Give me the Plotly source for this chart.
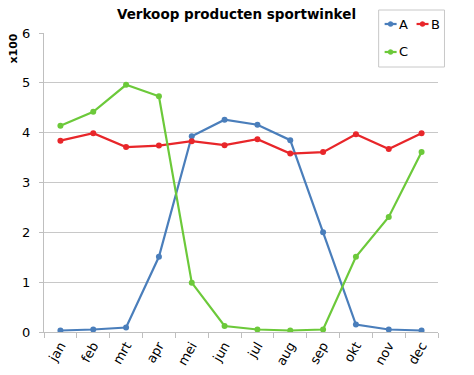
import plotly.graph_objects as go

months = ["jan", "feb", "mrt", "apr", "mei", "jun", "jul", "aug", "sep", "okt", "nov", "dec"]
A = [0.03, 0.05, 0.09, 1.51, 3.93, 4.26, 4.16, 3.85, 2.00, 0.15, 0.05, 0.03]
B = [3.84, 3.99, 3.71, 3.74, 3.83, 3.75, 3.87, 3.58, 3.61, 3.97, 3.67, 3.99]
C = [4.14, 4.42, 4.96, 4.73, 0.99, 0.12, 0.05, 0.03, 0.05, 1.51, 2.31, 3.61]
yticks = [0, 1, 2, 3, 4, 5, 6]
series = [("A", A), ("B", B), ("C", C)]

colors = {"A": "#4a7ebb", "B": "#e8262a", "C": "#6cc93a"}
FONT = "DejaVu Sans"

W, H = 474, 375
ML, MT = 43.5, 33
MR = W - 438.5
MB = H - 332
PW, PH = W - ML - MR, H - MT - MB


def px(x):
    return (x - ML) / PW


def py(y):
    return (MT + PH - y) / PH


fig = go.Figure()
for name, vals in series:
    fig.add_trace(go.Scatter(
        x=months, y=vals, name=name, mode="lines+markers",
        line=dict(color=colors[name], width=2.2),
        marker=dict(color=colors[name], size=6, symbol="circle"),
        showlegend=False, hoverinfo="skip",
    ))

# custom legend (box, symbols, labels)
shapes = [dict(type="rect", xref="paper", yref="paper", x0=px(379), x1=px(445),
               y0=py(67), y1=py(10), line=dict(color="#c8c8c8", width=1),
               fillcolor="white", layer="above")]
annotations = []
legend_pos = {"A": (385, 24), "B": (417, 24), "C": (385, 52)}
for name, _ in series:
    lx, ly = legend_pos[name]
    shapes.append(dict(type="line", xref="paper", yref="paper", x0=px(lx), x1=px(lx + 12),
                       y0=py(ly), y1=py(ly), line=dict(color=colors[name], width=2.2),
                       layer="above"))
    shapes.append(dict(type="circle", xref="paper", yref="paper", x0=px(lx + 3.5), x1=px(lx + 8.5),
                       y0=py(ly + 2.5), y1=py(ly - 2.5), line=dict(color=colors[name], width=0.5),
                       fillcolor=colors[name], layer="above"))
    annotations.append(dict(text=name, xref="paper", yref="paper", x=px(lx + 12.5), y=py(ly),
                            xanchor="left", yanchor="middle", showarrow=False,
                            font=dict(size=13, family=FONT, color="black")))

annotations.append(dict(text="<b>x100</b>", xref="paper", yref="paper", x=px(12), y=py(32),
                        xanchor="center", yanchor="top", textangle=-90, showarrow=False,
                        font=dict(size=11, family=FONT, color="black")))

fig.update_layout(
    width=W, height=H,
    margin=dict(l=ML, r=MR, t=MT, b=MB, autoexpand=False),
    paper_bgcolor="white", plot_bgcolor="white",
    font=dict(family=FONT, size=13, color="black"),
    title=dict(text="<b>Verkoop producten sportwinkel</b>",
               x=((118 + 355) / 2) / W, xanchor="center", xref="container",
               y=1 - 14 / H, yanchor="middle", yref="container",
               font=dict(size=13.5, family=FONT)),
    showlegend=False,
    hovermode=False,
    xaxis=dict(type="category", tickson="boundaries", ticks="outside", ticklen=5,
               tickcolor="#bfbfbf", showline=True, linecolor="#bfbfbf", linewidth=1,
               showgrid=False, tickangle=-60, tickfont=dict(size=13, family=FONT),
               range=[-0.5, 11.5]),
    yaxis=dict(range=[0, 6], tickvals=yticks, ticks="outside", ticklen=4,
               tickcolor="#bfbfbf", showline=True, linecolor="#bfbfbf", linewidth=1,
               showgrid=True, gridcolor="#c8c8c8", gridwidth=1, zeroline=False,
               ticklabelstandoff=6, tickfont=dict(size=13, family=FONT)),
    shapes=shapes,
    annotations=annotations,
)

fig.write_html("out.html", config={"displayModeBar": False, "staticPlot": True},
               post_script="document.body.style.margin='0';")
